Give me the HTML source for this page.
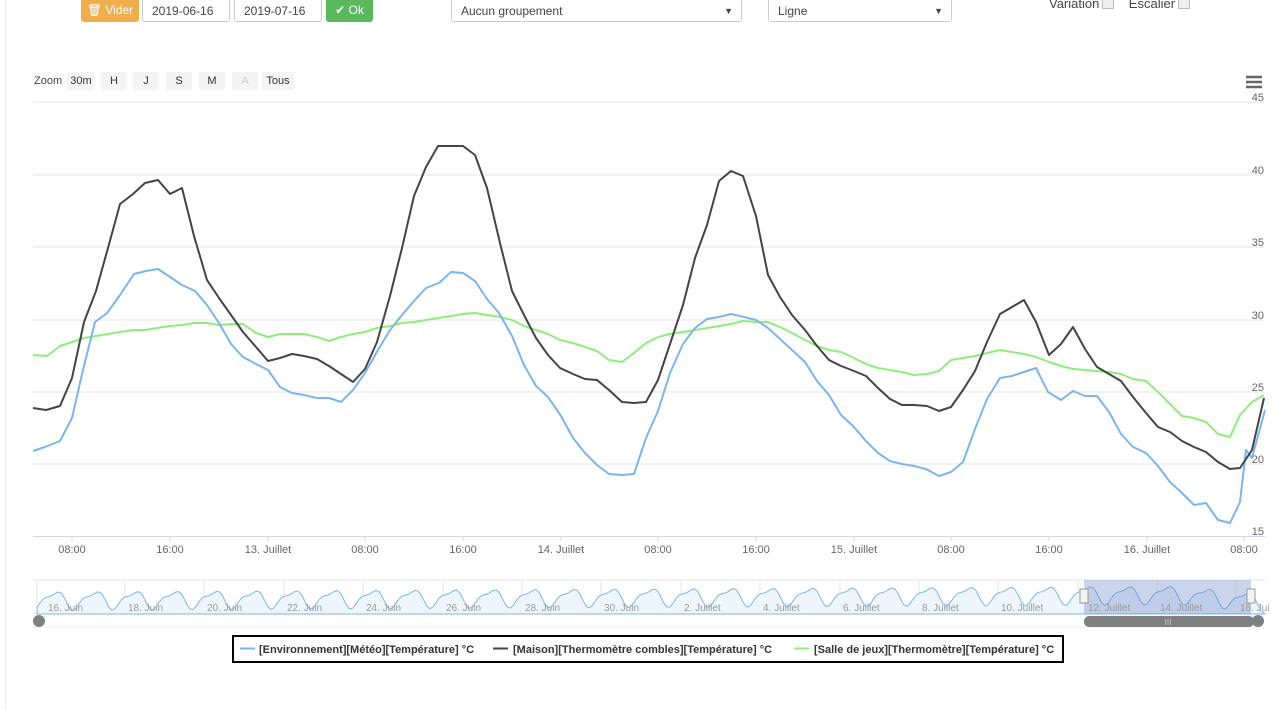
<!DOCTYPE html>
<html><head><meta charset="utf-8"><style>
body{margin:0;width:1280px;height:710px;background:#fff;font-family:"Liberation Sans",sans-serif;position:relative;overflow:hidden}
.a{position:absolute}
.btn{position:absolute;top:0;height:22px;border-radius:0 0 3px 3px;color:#fff;font-size:12px;line-height:20px;text-align:center}
.inp{position:absolute;top:-1px;height:23px;border:1px solid #ccc;border-radius:0 0 3px 3px;font-size:12px;color:#444;line-height:22px;padding-left:9px;box-sizing:border-box}
.zb{position:absolute;top:72px;height:18px;background:#f4f4f4;font-size:11px;color:#333;line-height:18px;text-align:center}
.cb{display:inline-block;width:10px;height:10px;border:1px solid #bbb;background:#eee;vertical-align:-1px;margin-left:3px}
</style></head><body>
<div class="a" style="left:5px;top:0;width:1px;height:710px;background:#eee"></div>
<div class="btn" style="left:81px;width:58px;background:#f0ad4e">🗑 Vider</div>
<div class="inp" style="left:142px;width:88px">2019-06-16</div>
<div class="inp" style="left:234px;width:88px">2019-07-16</div>
<div class="btn" style="left:326px;width:47px;background:#5cb85c">✔ Ok</div>
<div class="inp" style="left:451px;width:291px">Aucun groupement<span style="position:absolute;right:8px;font-size:9px">▼</span></div>
<div class="inp" style="left:768px;width:184px">Ligne<span style="position:absolute;right:8px;font-size:9px">▼</span></div>
<div class="a" style="left:1049px;top:-4px;font-size:13px;color:#444">Variation<span class="cb"></span>&nbsp;&nbsp;&nbsp; Escalier<span class="cb"></span></div>
<div class="a" style="left:34px;top:75px;font-size:11px;color:#444">Zoom</div>
<div class="zb" style="left:67px;width:28px">30m</div>
<div class="zb" style="left:101px;width:26px">H</div>
<div class="zb" style="left:133px;width:26px">J</div>
<div class="zb" style="left:166px;width:26px">S</div>
<div class="zb" style="left:199px;width:26px">M</div>
<div class="zb" style="left:232px;width:26px;color:#ccc">A</div>
<div class="zb" style="left:262px;width:32px">Tous</div>
<svg class="a" style="left:0;top:0" width="1280" height="710" font-family="Liberation Sans, sans-serif">
<g stroke="#666" stroke-width="2.5"><line x1="1246" y1="77" x2="1262" y2="77"/><line x1="1246" y1="82" x2="1262" y2="82"/><line x1="1246" y1="87" x2="1262" y2="87"/></g>
<g stroke="#e6e6e6" stroke-width="1">
<line x1="33" y1="102" x2="1265" y2="102"/><line x1="33" y1="175" x2="1265" y2="175"/><line x1="33" y1="247" x2="1265" y2="247"/><line x1="33" y1="320" x2="1265" y2="320"/><line x1="33" y1="392" x2="1265" y2="392"/><line x1="33" y1="464" x2="1265" y2="464"/>
</g>
<line x1="33" y1="536.5" x2="1265" y2="536.5" stroke="#ccd6eb"/>
<g stroke="#ccd6eb"><line x1="72" y1="536" x2="72" y2="541"/><line x1="170" y1="536" x2="170" y2="541"/><line x1="268" y1="536" x2="268" y2="541"/><line x1="365" y1="536" x2="365" y2="541"/><line x1="463" y1="536" x2="463" y2="541"/><line x1="561" y1="536" x2="561" y2="541"/><line x1="658" y1="536" x2="658" y2="541"/><line x1="756" y1="536" x2="756" y2="541"/><line x1="854" y1="536" x2="854" y2="541"/><line x1="951" y1="536" x2="951" y2="541"/><line x1="1049" y1="536" x2="1049" y2="541"/><line x1="1147" y1="536" x2="1147" y2="541"/><line x1="1244" y1="536" x2="1244" y2="541"/></g>
<g font-size="11" fill="#666" text-anchor="middle">
<text x="72" y="553">08:00</text><text x="170" y="553">16:00</text><text x="268" y="553">13. Juillet</text><text x="365" y="553">08:00</text><text x="463" y="553">16:00</text><text x="561" y="553">14. Juillet</text><text x="658" y="553">08:00</text><text x="756" y="553">16:00</text><text x="854" y="553">15. Juillet</text><text x="951" y="553">08:00</text><text x="1049" y="553">16:00</text><text x="1147" y="553">16. Juillet</text><text x="1244" y="553">08:00</text>
</g>
<g font-size="11" fill="#666" text-anchor="end">
<text x="1264" y="101">45</text><text x="1264" y="174">40</text><text x="1264" y="246">35</text><text x="1264" y="319">30</text><text x="1264" y="391">25</text><text x="1264" y="463">20</text><text x="1264" y="535">15</text>
</g>
<g fill="none" stroke-width="2" stroke-linejoin="round">
<polyline stroke="#90ed7d" points="33,355 47,356 60,346 72,342 84,338 96,336 108,334 120,332 133,330 145,330 157,328 170,326 182,325 194,323 207,323 219,325 231,324 243,324 256,333 268,337 280,334 292,334 304,334 317,337 329,341 341,337 353,334 365,332 377,328 390,326 402,323 414,322 426,320 438,318 451,316 463,314 475,313 487,315 500,317 512,320 524,326 536,330 548,334 560,340 573,343 585,347 597,351 609,360 622,362 634,353 646,343 658,337 670,334 683,332 695,330 707,328 719,326 731,324 743,321 756,322 768,322 780,327 792,333 805,340 817,346 829,350 841,352 854,358 866,364 878,368 890,370 902,372 914,375 927,374 939,371 951,360 963,358 975,356 987,353 1000,350 1012,352 1024,354 1036,357 1049,362 1061,366 1073,369 1085,370 1097,371 1109,372 1121,374 1133,379 1146,381 1158,392 1170,404 1182,416 1194,418 1206,422 1218,434 1230,437 1240,415 1252,402 1264,395"/>
<polyline stroke="#7cb5ec" points="33,451 45,447 60,441 72,418 83,370 95,322 107,313 120,295 134,274 146,271 158,269 170,277 182,285 195,291 207,305 219,323 231,344 243,357 256,364 268,370 280,387 292,393 304,395 317,398 329,398 341,402 353,390 365,373 378,350 390,330 402,315 414,301 426,288 439,283 451,272 463,273 475,281 487,299 499,313 512,336 524,365 536,386 548,397 561,416 573,438 585,453 597,465 609,474 622,475 634,474 646,438 658,411 670,373 683,344 695,328 707,319 719,317 731,314 744,317 756,320 768,328 780,339 792,350 805,362 817,381 829,395 841,415 853,426 866,441 878,453 890,461 902,464 914,466 926,469 939,476 951,472 963,462 975,429 987,399 1000,378 1012,376 1024,372 1036,368 1048,392 1061,400 1073,391 1085,396 1097,396 1109,412 1121,434 1133,447 1146,453 1158,466 1170,482 1182,493 1194,505 1206,503 1218,520 1230,523 1240,502 1246,450 1252,458 1265,410"/>
<polyline stroke="#434348" points="33,408 46,410 60,406 72,378 84,322 96,291 108,248 120,204 133,194 145,183 158,180 170,194 182,188 194,236 207,280 219,298 231,315 243,332 256,347 268,361 280,358 292,354 304,356 317,359 329,366 341,374 353,382 365,369 377,342 390,296 402,248 414,196 426,167 438,146 451,146 463,146 475,155 487,188 500,243 512,291 524,315 536,338 548,355 560,368 573,374 585,379 597,380 609,390 622,402 634,403 646,402 658,380 670,344 683,305 695,258 707,225 719,181 731,171 743,176 756,216 768,275 780,297 792,315 805,330 817,346 829,360 841,366 854,371 866,376 878,388 890,399 902,405 914,405 927,406 939,411 951,407 963,390 975,371 987,342 1000,314 1012,307 1024,300 1036,322 1049,355 1061,344 1073,327 1085,349 1097,367 1109,374 1121,381 1133,397 1146,413 1158,427 1170,432 1182,441 1194,447 1206,452 1218,462 1230,469 1240,468 1252,450 1264,398"/>
</g>
<line x1="33" y1="580" x2="1265" y2="580" stroke="#e6e6e6"/>
<line x1="33" y1="614" x2="1265" y2="614" stroke="#e6e6e6"/>
<g stroke="#e6e6e6"><line x1="37" y1="580" x2="37" y2="614"/><line x1="125" y1="580" x2="125" y2="614"/><line x1="204" y1="580" x2="204" y2="614"/><line x1="284" y1="580" x2="284" y2="614"/><line x1="363" y1="580" x2="363" y2="614"/><line x1="443" y1="580" x2="443" y2="614"/><line x1="522" y1="580" x2="522" y2="614"/><line x1="601" y1="580" x2="601" y2="614"/><line x1="681" y1="580" x2="681" y2="614"/><line x1="760" y1="580" x2="760" y2="614"/><line x1="840" y1="580" x2="840" y2="614"/><line x1="919" y1="580" x2="919" y2="614"/><line x1="998" y1="580" x2="998" y2="614"/><line x1="1078" y1="580" x2="1078" y2="614"/><line x1="1157" y1="580" x2="1157" y2="614"/><line x1="1236" y1="580" x2="1236" y2="614"/></g>
<path id="nav" fill="#eef5fc" stroke="#7cb5ec" stroke-width="1"/>
<rect x="1084" y="580" width="167" height="34" fill="rgba(102,133,194,0.35)"/>
<g font-size="10" fill="#999">
<text x="48" y="611">16. Juin</text><text x="128" y="611">18. Juin</text><text x="207" y="611">20. Juin</text><text x="287" y="611">22. Juin</text><text x="366" y="611">24. Juin</text><text x="446" y="611">26. Juin</text><text x="525" y="611">28. Juin</text><text x="604" y="611">30. Juin</text><text x="684" y="611">2. Juillet</text><text x="763" y="611">4. Juillet</text><text x="843" y="611">6. Juillet</text><text x="922" y="611">8. Juillet</text><text x="1001" y="611">10. Juillet</text><text x="1088" y="611">12. Juillet</text><text x="1160" y="611">14. Juillet</text><text x="1240" y="611">16. Jui</text>
</g>
<rect x="1080" y="589" width="8" height="14" fill="#f2f2f2" stroke="#999"/><rect x="1247" y="589" width="8" height="14" fill="#f2f2f2" stroke="#999"/>
<line x1="33" y1="627" x2="1265" y2="627" stroke="#eee"/>
<rect x="1084" y="616" width="170" height="11" rx="5" fill="#808080"/>
<text x="1168" y="625" font-size="8" fill="#ccc" text-anchor="middle">III</text>
<circle cx="39" cy="621" r="6" fill="#808080"/><circle cx="1258" cy="621" r="6" fill="#808080"/>
<rect x="233" y="636" width="830" height="26" fill="#fff" stroke="#000" stroke-width="2"/>
<g font-size="11" font-weight="bold" fill="#333">
<line x1="240" y1="648.5" x2="255" y2="648.5" stroke="#7cb5ec" stroke-width="2"/><text x="259" y="653">[Environnement][Météo][Température] °C</text>
<line x1="493" y1="648.5" x2="508" y2="648.5" stroke="#434348" stroke-width="2"/><text x="513" y="653">[Maison][Thermomètre combles][Température] °C</text>
<line x1="794" y1="648.5" x2="809" y2="648.5" stroke="#90ed7d" stroke-width="2"/><text x="814" y="653">[Salle de jeux][Thermomètre][Température] °C</text>
</g>
</svg>
<script>
(function(){var d="M37,614";var pts=[];for(var x=37;x<=1265;x+=3){var t=(x-37)/39.7;var base=600-(x-37)/1228*6+ (x>1180?(x-1180)*0.1:0);var y=base-8*Math.sin(t*Math.PI*2-1.2)-3*Math.sin(t*Math.PI*4);pts.push(x+","+y.toFixed(1));}
d+=" L"+pts.join(" L")+" L1265,614 Z";document.getElementById("nav").setAttribute("d",d);})();
</script>
</body></html>
